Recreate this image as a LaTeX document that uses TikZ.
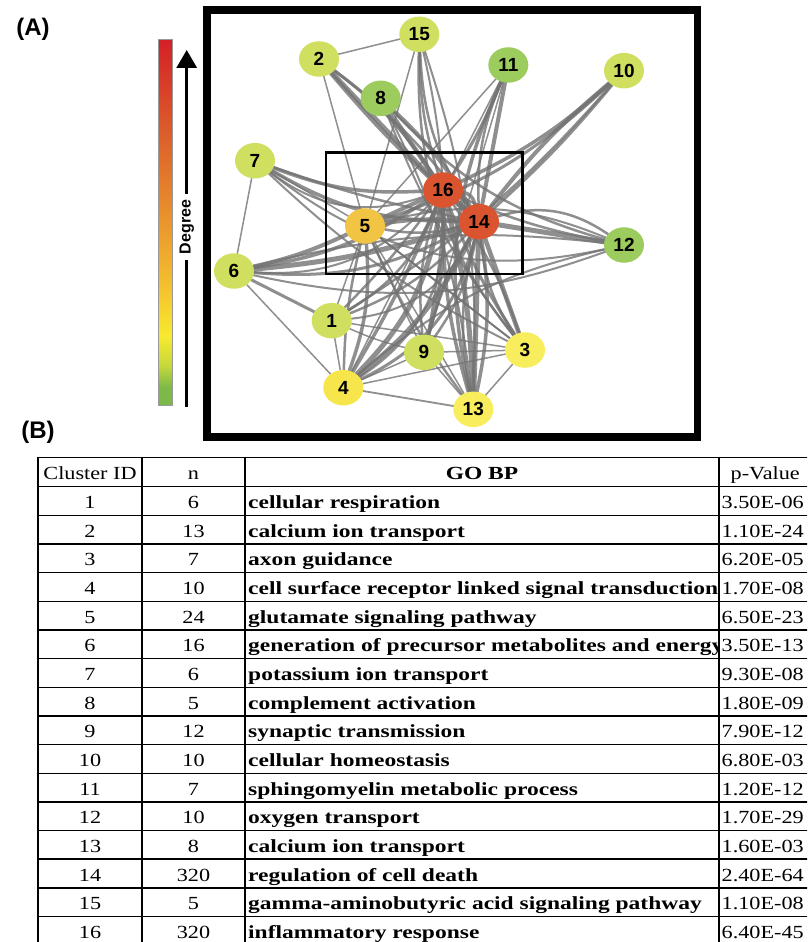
\documentclass[tikz,border=0pt]{standalone}
\usepackage{fontspec}
\setmainfont{Liberation Serif}
\newfontfamily\lsans{Liberation Sans}
\newfontfamily\tabfont[FakeStretch=1.2]{Liberation Serif}
\newfontfamily\tabbfont[FakeStretch=1.27]{Liberation Serif}
\usetikzlibrary{shapes.geometric,arrows.meta,backgrounds}
\definecolor{cbA}{HTML}{7DB948}
\definecolor{cbB}{HTML}{C6D83C}
\definecolor{cbC}{HTML}{F7EA2E}
\definecolor{cbD}{HTML}{F4C22E}
\definecolor{cbE}{HTML}{E68A2D}
\definecolor{cbF}{HTML}{DC5A2A}
\definecolor{cbG}{HTML}{D42028}
\definecolor{cyg}{HTML}{D0DF60}
\definecolor{cgr}{HTML}{9CCB5E}
\definecolor{cyl}{HTML}{F8ED5C}
\definecolor{cyl4}{HTML}{F6E64C}
\definecolor{cor}{HTML}{F2C443}
\definecolor{crd}{HTML}{DB5430}
\definecolor{edgegray}{HTML}{737373}
\pgfdeclareverticalshading{degreebar}{100bp}{color(0bp)=(cbA); color(25bp)=(cbA); color(27.5bp)=(cbA); color(30.5bp)=(cbB); color(34.5bp)=(cbC); color(41bp)=(cbD); color(52.5bp)=(cbE); color(63bp)=(cbF); color(75bp)=(cbG); color(100bp)=(cbG)}
\tikzset{
  netnode/.style={ellipse, minimum width=40pt, minimum height=35.5pt, inner sep=0pt,
    font=\lsans\bfseries\fontsize{19}{19}\selectfont, text=black},
  edge/.style={draw=edgegray, draw opacity=0.8, line cap=round},
  tabtxt/.style={inner sep=0pt, font=\tabfont\fontsize{18.5}{20}\selectfont},
  tabbold/.style={inner sep=0pt, font=\tabbfont\bfseries\fontsize{18.5}{20}\selectfont},
  hline/.style={line width=1.4pt},
  vline/.style={line width=2pt},
  panel/.style={font=\lsans\bfseries\fontsize{24}{24}\selectfont, inner sep=0pt}
}
\begin{document}
\begin{tikzpicture}[x=1pt,y=-1pt]
\useasboundingbox (0,0) rectangle (807,942);
\begin{scope}[on background layer]
\fill[white] (0,0) rectangle (807,942);
\end{scope}
\clip (0,0) rectangle (807,942);

% panel labels
\node[panel] (labA) at (33,29) {(A)};
\node[panel] (labB) at (38,432) {(B)};

% colour bar
\shade[shading=degreebar] (158.3,39.3) rectangle (172.7,405.7);
\draw[line width=0.6pt, black!40] (158.3,39.3) rectangle (172.7,405.7);

% degree arrow
\node[rotate=90, inner sep=6pt, font=\lsans\bfseries\fontsize{16}{16}\selectfont] (deg) at (186.7,227) {Degree};
\coordinate (arrtop) at (186.7,50);
\coordinate (arrbot) at (186.7,407);
\draw[line width=3.3pt, -{Triangle[width=20pt,length=18pt]}] (deg.east) -- (arrtop);
\draw[line width=3.3pt] (deg.west) -- (arrbot);

% outer frame
\draw[line width=7.7pt] (207,10) rectangle (697.5,437);

% network nodes
\node[netnode, fill=cyg] (n2) at (319,59) {2};
\node[netnode, fill=cyg] (n15) at (419.3,34.3) {15};
\node[netnode, fill=cgr] (n8) at (380.7,98.3) {8};
\node[netnode, fill=cgr] (n11) at (508.3,65) {11};
\node[netnode, fill=cyg] (n10) at (624,70.7) {10};
\node[netnode, fill=cyg] (n7) at (255,160.7) {7};
\node[netnode, fill=crd] (n16) at (443,190) {16};
\node[netnode, fill=cor] (n5) at (365,226) {5};
\node[netnode, fill=crd] (n14) at (479,221.7) {14};
\node[netnode, fill=cgr] (n12) at (624,245) {12};
\node[netnode, fill=cyg] (n6) at (234,271) {6};
\node[netnode, fill=cyg] (n1) at (331.7,320.7) {1};
\node[netnode, fill=cyg] (n9) at (424,352.3) {9};
\node[netnode, fill=cyl] (n3) at (525,350) {3};
\node[netnode, fill=cyl4] (n4) at (343.3,387.7) {4};
\node[netnode, fill=cyl] (n13) at (473.3,409.3) {13};

\begin{scope}[on background layer]
\foreach \a/\b/\w/\bd in {
  2/15/1.5pt/0, 2/5/1.5pt/0, 15/5/1.5pt/0, 7/6/1.5pt/0, 7/5/1.5pt/0,
  6/4/1.5pt/0, 1/4/1.5pt/0, 1/3/1.5pt/0, 4/9/1.5pt/0, 4/3/1.5pt/0,
  4/13/1.8pt/0, 9/13/1.5pt/0, 9/3/1.5pt/0, 3/13/1.5pt/0, 11/5/1.5pt/0,
  6/1/3pt/0, 9/5/1.5pt/0, 5/3/1.5pt/0, 5/13/1.5pt/0, 1/9/1.5pt/-5,
  2/16/4.5pt/0, 2/14/4.5pt/-4, 2/16/3pt/10, 2/14/2.5pt/8,
  8/16/4.5pt/0, 8/14/4pt/8, 8/12/2.5pt/-15, 8/13/2pt/10, 8/3/2pt/-8,
  15/16/2.5pt/-8, 15/14/2.5pt/-15, 15/9/2pt/12, 15/3/2.5pt/-20, 15/13/2pt/10,
  11/16/3pt/5, 11/14/4pt/0, 11/13/3.5pt/-18, 11/9/1.5pt/0, 11/14/2.5pt/-12, 11/4/1.5pt/0,
  10/16/3.5pt/8, 10/14/4pt/-6, 10/5/3pt/12, 10/14/3pt/4, 10/1/2.5pt/8,
  12/14/5pt/0, 12/16/2.5pt/6, 12/5/2pt/-18, 12/6/2pt/-10, 12/14/2.5pt/-25, 12/4/2pt/-14,
  7/16/3.5pt/-12, 7/14/3.5pt/-15, 7/12/2pt/-25, 7/16/2pt/-28, 7/14/2.5pt/-4, 7/3/2pt/-8,
  6/5/4pt/-6, 6/16/3.5pt/-12, 6/14/5pt/-6, 6/12/2pt/-16, 6/16/2pt/-25, 6/14/3pt/-16,
  1/16/2.5pt/-18, 1/14/2.5pt/-12, 1/5/1.5pt/0, 1/16/2.5pt/-4, 1/14/2pt/-28,
  4/16/5pt/-18, 4/14/5pt/-12, 4/5/3.5pt/-12, 4/16/3.5pt/-4, 4/14/3pt/-25, 4/5/2.5pt/6, 4/16/2.5pt/-30,
  9/16/3.5pt/-8, 9/14/3pt/8, 9/16/2.5pt/12, 9/14/2.5pt/-12,
  3/16/3pt/6, 3/14/4.5pt/0, 3/5/2pt/0, 3/16/2.5pt/-8, 3/14/2.5pt/14,
  13/16/5pt/-6, 13/14/5pt/0, 13/5/2.5pt/6, 13/16/3.5pt/8, 13/14/3.5pt/-10, 13/14/2.5pt/12,
  16/14/6pt/0, 5/16/4pt/0, 5/14/4pt/6, 5/14/2.5pt/-12, 16/14/3.5pt/35
}{
  \draw[edge, line width=\w] (n\a) to[bend left=\bd] (n\b);
}
\draw[line width=2.8pt] (326,152.3) rectangle (522.5,274);
\end{scope}

% table lines
\draw[hline] (38,457.3) -- (810,457.3);
\draw[hline] (38,486.7) -- (810,486.7);
\foreach \i in {1,...,15}{
  \draw[hline] (38,{486.7+28.65*\i}) -- (810,{486.7+28.65*\i});
}
\foreach \x in {38,142,245,719}{
  \draw[vline] (\x,456.6) -- (\x,950);
}

% header
\node[tabtxt, anchor=base] (hc) at (90,479.4) {Cluster ID};
\node[tabtxt, anchor=base] (hn) at (193.5,479.4) {n};
\node[tabbold, anchor=base] (hg) at (482,479.4) {GO BP};
\node[tabtxt, anchor=base west] (hp) at (730.5,479.4) {p-Value};

% rows
\foreach \i/\n/\p in {1/6/3.50E-06, 2/13/1.10E-24, 3/7/6.20E-05, 4/10/1.70E-08,
  5/24/6.50E-23, 6/16/3.50E-13, 7/6/9.30E-08, 8/5/1.80E-09, 9/12/7.90E-12,
  10/10/6.80E-03, 11/7/1.20E-12, 12/10/1.70E-29, 13/8/1.60E-03, 14/320/2.40E-64,
  15/5/1.10E-08, 16/320/6.40E-45}{
  \node[tabtxt, anchor=base] (c\i) at (90,{486.7+28.65*\i-6.7}) {\i};
  \node[tabtxt, anchor=base] (k\i) at (193.5,{486.7+28.65*\i-6.7}) {\n};
  \node[tabtxt, anchor=base west] (p\i) at (721.5,{486.7+28.65*\i-6.7}) {\p};
}
\begin{scope}
\clip (246,450) rectangle (718,950);
\foreach \i/\g in {1/cellular respiration, 2/calcium ion transport, 3/axon guidance,
  4/cell surface receptor linked signal transduction, 5/glutamate signaling pathway,
  6/generation of precursor metabolites and energy, 7/potassium ion transport,
  8/complement activation, 9/synaptic transmission, 10/cellular homeostasis,
  11/sphingomyelin metabolic process, 12/oxygen transport, 13/calcium ion transport,
  14/regulation of cell death, 15/gamma-aminobutyric acid signaling pathway,
  16/inflammatory response}{
  \node[tabbold, anchor=base west] (g\i) at (248,{486.7+28.65*\i-6.7}) {\g};
}
\end{scope}
\end{tikzpicture}
\end{document}
